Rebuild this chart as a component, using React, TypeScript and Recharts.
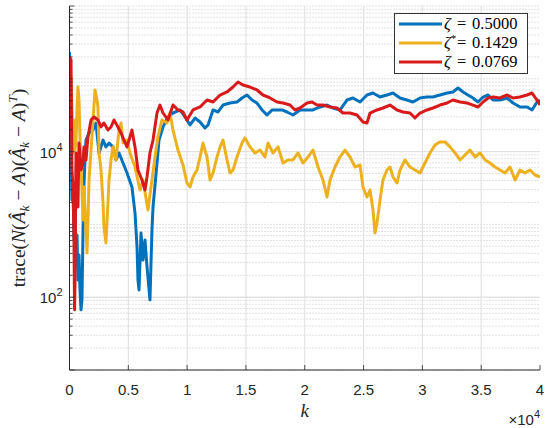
import React from 'react';
import { LineChart, Line, XAxis, YAxis, CartesianGrid, ReferenceLine } from 'recharts';

// ---------- axis ticks ----------
const xTicks = [0, 5000, 10000, 15000, 20000, 25000, 30000, 35000, 40000];
const xTickLabels = ['0', '0.5', '1', '1.5', '2', '2.5', '3', '3.5', '4'];
const xGridTicks = [5000, 10000, 15000, 20000, 25000, 30000, 35000];
const yLabelTicks = [100, 10000];
const yLabelExps = ['2', '4'];
const yMajorTicks = [10, 100, 10000, 1000000];
const yDecades = [10, 100, 1000, 10000, 100000];
const yMinorSteps = [1, 2, 3, 4, 5, 6, 7, 8, 9];
const yAllTicks = yDecades.flatMap((d) => yMinorSteps.map((s) => s * d)).concat([1000000]);

// ---------- series: zeta = 0.5000 ----------
const blueK = [0, 130, 210, 300, 380, 470, 550, 640, 720, 810, 890, 980, 1060, 1150, 1230, 1320, 1400, 1660, 2000, 2250, 2510, 2850, 3100, 3360, 3700, 3950, 4210, 4550, 4890, 5310, 5570, 5740, 5820, 5910, 6080, 6250, 6420, 6590, 6840, 7010, 7100, 7440, 7610, 7950, 8370, 8800, 9400, 9820, 10250, 10670, 11100, 11520, 11780, 12200, 12630, 13050, 13650, 14240, 14670, 15090, 15520, 15940, 16370, 16790, 17220, 17640, 18070, 18490, 19000, 19600, 20190, 20700, 21300, 21890, 22400, 23000, 23590, 24100, 24700, 25290, 25800, 26400, 26990, 27500, 28100, 28690, 29200, 29800, 30390, 30900, 31500, 32100, 32600, 33030, 33460, 33880, 34300, 34730, 35160, 35580, 36010, 36600, 37200, 37710, 38300, 38900, 39320, 39750, 40000];
const blueV = [233000, 10500, 2170, 3480, 611, 1350, 277, 715, 172, 380, 126, 67, 92, 838, 3480, 7670, 14400, 18000, 19800, 24700, 9570, 14400, 11600, 13100, 11600, 7670, 9570, 6970, 5080, 3270, 1430, 489, 172, 126, 762, 324, 611, 260, 92, 838, 1730, 6970, 14400, 21800, 29900, 33900, 37300, 29900, 23200, 28900, 25500, 21100, 23200, 37300, 35000, 43600, 46500, 48000, 54500, 59900, 51100, 46500, 37300, 31800, 37300, 37300, 37300, 35000, 31800, 37300, 37300, 37300, 41000, 43600, 39700, 37300, 51100, 54500, 48000, 59900, 63800, 56200, 59900, 63800, 54500, 51100, 48000, 54500, 56200, 56200, 59900, 63800, 65900, 74800, 65900, 59900, 54500, 48000, 56200, 59900, 51100, 51100, 54500, 46500, 41000, 41000, 37300, 48000, 51100];

// ---------- series: zeta* = 0.1429 ----------
const yellowK = [0, 130, 210, 300, 380, 470, 550, 640, 720, 810, 890, 1060, 1150, 1230, 1320, 1490, 1570, 1660, 1830, 2000, 2170, 2340, 2420, 2510, 2680, 2850, 2930, 3100, 3270, 3360, 3530, 3700, 3950, 4210, 4380, 4550, 4890, 5140, 5570, 5990, 6250, 6670, 7010, 7270, 7520, 7860, 8290, 8540, 8800, 9220, 9650, 9990, 10250, 10500, 10840, 11100, 11350, 11690, 11950, 12200, 12540, 12800, 13050, 13390, 13650, 13900, 14240, 14670, 14920, 15350, 15770, 16200, 16620, 16880, 17300, 17730, 18150, 18580, 19000, 19430, 19850, 20280, 20700, 21130, 21550, 21890, 22150, 22570, 23000, 23420, 23850, 24270, 24700, 24950, 25290, 25550, 25800, 25970, 26140, 26400, 26650, 26990, 27250, 27500, 27840, 28100, 28520, 28950, 29370, 29800, 30220, 30650, 31070, 31500, 31930, 32350, 32780, 33200, 33630, 34050, 34480, 34900, 35330, 35750, 36180, 36600, 37030, 37450, 37880, 38300, 38730, 39150, 39580, 40000];
const yellowV = [51100, 103000, 37300, 9570, 27200, 10500, 13100, 37300, 77100, 51100, 15900, 2970, 1150, 3270, 1580, 405, 1150, 4070, 10500, 27200, 70200, 51100, 41000, 9570, 5590, 1970, 921, 555, 1970, 4070, 7670, 11600, 7670, 19800, 24700, 13100, 14400, 9570, 6140, 2970, 4070, 1580, 4070, 8430, 15900, 27200, 24700, 33900, 19800, 10500, 6550, 3700, 3270, 4480, 5590, 8430, 13100, 8430, 4070, 5080, 8430, 11600, 14400, 7670, 5080, 5590, 8430, 13100, 15400, 11600, 9570, 10500, 8430, 13100, 9570, 11600, 6970, 7670, 7670, 9570, 6970, 8430, 10500, 6140, 4070, 2380, 4070, 6140, 8430, 10500, 8430, 6140, 6550, 3270, 2380, 2970, 1580, 762, 1050, 2170, 4070, 5590, 6140, 4480, 3700, 5590, 7670, 6140, 5590, 5080, 6970, 9570, 12300, 13600, 13600, 11600, 9570, 7670, 8980, 10500, 8430, 9570, 7670, 6970, 6140, 5590, 5080, 6140, 4070, 5590, 5080, 5590, 4770, 4480];

// ---------- series: zeta = 0.0769 ----------
const redK = [0, 130, 170, 210, 300, 380, 430, 470, 550, 640, 720, 810, 980, 1150, 1230, 1400, 1570, 1830, 2080, 2420, 2680, 2930, 3270, 3530, 3780, 4120, 4380, 4630, 4890, 5310, 5570, 5820, 6160, 6420, 6590, 6840, 7100, 7440, 7690, 7950, 8370, 8800, 9220, 9650, 9990, 10500, 11100, 11690, 12200, 12800, 13390, 13900, 14330, 14750, 15350, 15940, 16450, 17050, 17640, 18150, 18750, 19170, 19600, 20190, 20620, 21040, 21550, 22150, 22740, 23250, 23850, 24440, 24950, 25290, 25550, 26140, 26650, 27250, 27840, 28350, 28950, 29370, 29800, 30390, 30900, 31500, 32100, 32600, 33200, 33800, 34300, 34730, 35160, 35580, 36010, 36600, 37200, 37710, 38300, 38900, 39320, 39750, 40000];
const redV = [199000, 181000, 27200, 5590, 3270, 611, 67, 172, 9570, 2970, 1730, 13100, 5590, 6970, 11600, 7670, 15900, 27200, 29900, 27200, 21800, 24700, 19800, 21800, 27200, 21800, 18000, 14400, 11600, 19800, 11600, 5590, 4070, 2970, 4480, 9570, 14400, 33900, 43600, 33900, 27200, 43600, 37300, 35000, 27200, 37300, 41000, 51100, 48000, 59900, 65900, 77100, 90400, 82200, 77100, 70200, 59900, 54500, 48000, 46500, 43600, 37300, 39700, 46500, 48000, 43600, 43600, 41000, 39700, 33900, 33900, 31800, 25500, 24700, 33900, 37300, 39700, 43600, 37300, 35000, 33900, 28900, 33900, 37300, 39700, 43600, 46500, 51100, 48000, 46500, 43600, 41000, 48000, 54500, 56200, 54500, 59900, 54500, 56200, 59900, 63800, 51100, 43600];

const seriesNames = ['zeta05', 'zetaStar', 'zeta0769'];
const seriesColors = ['#0072BD', '#EDB120', '#D91A1A'];
const legendMain = ['ζ', 'ζ', 'ζ'];
const legendSup = ['', '*', ''];
const legendValues = ['0.5000', '0.1429', '0.0769'];

const toRows = (ks: number[], vs: number[]) => ks.map((k, i) => ({ k, v: vs[i] }));
const seriesData = [toRows(blueK, blueV), toRows(yellowK, yellowV), toRows(redK, redV)];

const AX = '#262626';
const SANS = '"Liberation Sans", Arial, Helvetica, sans-serif';
const SERIF = '"Liberation Serif", "Times New Roman", serif';

const BottomTick = (props: any) => {
  const { x, y, payload } = props;
  const idx = xTicks.indexOf(payload.value);
  return (
    <g>
      <line x1={x} x2={x} y1={y} y2={y - 5} stroke={AX} strokeWidth={0.8} />
      <text x={x} y={y + 25} textAnchor="middle" fontFamily={SANS} fontSize={15} fill={AX}>
        {idx >= 0 ? xTickLabels[idx] : ''}
      </text>
    </g>
  );
};

const TopTick = (props: any) => {
  const { x, y } = props;
  return <line x1={x} x2={x} y1={y} y2={y + 5} stroke={AX} strokeWidth={0.8} />;
};

const LeftTick = (props: any) => {
  const { x, y, payload } = props;
  const v = payload.value;
  const len = yMajorTicks.includes(v) ? 5 : 3;
  const li = yLabelTicks.indexOf(v);
  return (
    <g>
      <line x1={x} x2={x + len} y1={y} y2={y} stroke={AX} strokeWidth={0.8} />
      {li >= 0 && (
        <text x={x - 7} y={y + 6} textAnchor="end" fontFamily={SANS} fontSize={15} fill={AX}>
          10
          <tspan dy={-7} fontSize={11}>{yLabelExps[li]}</tspan>
        </text>
      )}
    </g>
  );
};

const RightTick = (props: any) => {
  const { x, y, payload } = props;
  const len = yMajorTicks.includes(payload.value) ? 5 : 3;
  return <line x1={x} x2={x - len} y1={y} y2={y} stroke={AX} strokeWidth={0.8} />;
};

const YTitle = (props: any) => {
  const vb = props.viewBox || { x: 0, y: 6, width: 69, height: 364 };
  const cx = vb.x + 25;
  const cy = vb.y + vb.height / 2;
  return (
    <text
      transform={`translate(${cx},${cy}) rotate(-90)`}
      textAnchor="middle"
      fontFamily={SERIF}
      fontSize={19.5}
      fill={AX}
    >
      trace(
      <tspan fontStyle="italic">N</tspan>(
      <tspan fontStyle="italic">{'A\u0302'}</tspan>
      <tspan fontStyle="italic" fontSize={13.5} dy={4}>k</tspan>
      <tspan dy={-4}>{' \u2212 '}</tspan>
      <tspan fontStyle="italic">A</tspan>)(
      <tspan fontStyle="italic">{'A\u0302'}</tspan>
      <tspan fontStyle="italic" fontSize={13.5} dy={4}>k</tspan>
      <tspan dy={-4}>{' \u2212 '}</tspan>
      <tspan fontStyle="italic">A</tspan>)
      <tspan fontStyle="italic" fontSize={13.5} dy={-8}>T</tspan>
      <tspan dy={8}>)</tspan>
    </text>
  );
};

const XTitle = (props: any) => {
  const vb = props.viewBox || { x: 69.5, y: 370, width: 470.5, height: 58 };
  return (
    <g>
      <text x={vb.x + vb.width / 2} y={vb.y + 47} textAnchor="middle" fontFamily={SERIF} fontStyle="italic" fontSize={19} fill={AX}>
        k
      </text>
      <text x={vb.x + vb.width} y={vb.y + 55} textAnchor="end" fontFamily={SANS} fontSize={15} fill={AX}>
        ×10
        <tspan dy={-7} fontSize={11}>4</tspan>
      </text>
    </g>
  );
};

const LegendBox = () => (
  <svg width={136} height={63} style={{ position: 'absolute', left: 393, top: 12 }}>
    <rect x={1.5} y={1.5} width={133} height={60} fill="#ffffff" stroke="#333333" strokeWidth={1} />
    {seriesNames.map((n, i) => {
      const cy = 12 + i * 19;
      return (
        <g key={n}>
          <line x1={6} x2={49} y1={cy} y2={cy} stroke={seriesColors[i]} strokeWidth={2.8} />
          <text x={51} y={cy + 5} fontFamily={SERIF} fontSize={16.5} fontStyle="italic" fill="#000">
            {legendMain[i]}
            {legendSup[i] && (
              <tspan dy={-6} fontSize={11} fontStyle="normal">{legendSup[i]}</tspan>
            )}
          </text>
          <text x={64} y={cy + 5} fontFamily={SERIF} fontSize={16.5} fill="#000">=</text>
          <text x={79} y={cy + 5} fontFamily={SERIF} fontSize={16.5} fill="#000">{legendValues[i]}</text>
        </g>
      );
    })}
  </svg>
);

export default function App() {
  return (
    <div style={{ position: 'absolute', left: 0, top: 0, width: 550, height: 428, background: '#fff' }}>
      <LineChart width={550} height={428} margin={{ top: 6, right: 10, bottom: 0, left: 0 }}>
        <CartesianGrid
          xAxisId="b"
          yAxisId="l"
          vertical={false}
          horizontal
          stroke="#c4c4c4"
          strokeDasharray="1 2"
          horizontalValues={yAllTicks}
        />
        {xGridTicks.map((t) => (
          <ReferenceLine key={'vx' + t} x={t} xAxisId="b" yAxisId="l" stroke="#dedede" strokeWidth={1} />
        ))}
        {yLabelTicks.map((t) => (
          <ReferenceLine key={'hy' + t} y={t} xAxisId="b" yAxisId="l" stroke="#dedede" strokeWidth={1} />
        ))}
        <XAxis
          xAxisId="b"
          dataKey="k"
          type="number"
          domain={[0, 40000]}
          ticks={xTicks}
          interval={0}
          allowDataOverflow
          height={58}
          tickSize={0}
          tickMargin={0}
          tickLine={false}
          axisLine={{ stroke: AX, strokeWidth: 1 }}
          tick={<BottomTick />}
          label={{ content: <XTitle /> }}
        />
        <XAxis
          xAxisId="t"
          orientation="top"
          type="number"
          domain={[0, 40000]}
          ticks={xTicks}
          interval={0}
          allowDataOverflow
          height={0}
          tickSize={0}
          tickMargin={0}
          tickLine={false}
          axisLine={{ stroke: AX, strokeWidth: 1 }}
          tick={<TopTick />}
        />
        <YAxis
          yAxisId="l"
          type="number"
          scale="log"
          domain={[10, 1000000]}
          ticks={yAllTicks}
          interval={0}
          allowDataOverflow
          width={69.5}
          tickSize={0}
          tickMargin={0}
          tickLine={false}
          axisLine={{ stroke: AX, strokeWidth: 1 }}
          tick={<LeftTick />}
          label={{ content: <YTitle /> }}
        />
        <YAxis
          yAxisId="r"
          orientation="right"
          type="number"
          scale="log"
          domain={[10, 1000000]}
          ticks={yAllTicks}
          interval={0}
          allowDataOverflow
          width={0}
          tickSize={0}
          tickMargin={0}
          tickLine={false}
          axisLine={{ stroke: AX, strokeWidth: 1 }}
          tick={<RightTick />}
        />
        {seriesData.map((d, i) => (
          <Line
            key={seriesNames[i]}
            name={seriesNames[i]}
            data={d}
            xAxisId="b"
            yAxisId="l"
            dataKey="v"
            type="linear"
            stroke={seriesColors[i]}
            strokeWidth={3}
            strokeLinejoin="round"
            dot={false}
            activeDot={false}
            isAnimationActive={false}
          />
        ))}
      </LineChart>
      <LegendBox />
    </div>
  );
}
